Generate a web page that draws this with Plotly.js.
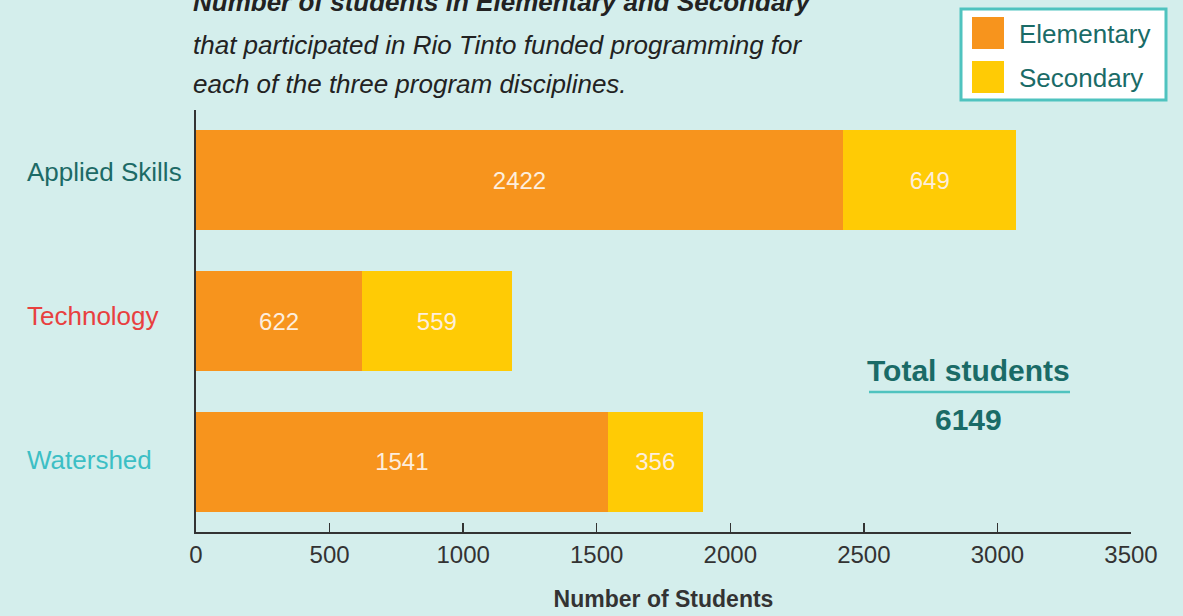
<!DOCTYPE html>
<html>
<head>
<meta charset="utf-8">
<script src="https://cdn.plot.ly/plotly-3.0.1.min.js"></script>
<style>html,body{margin:0;padding:0;background:#d4eeec;}</style>
</head>
<body>
<div id="chart" style="width:1183px;height:616px;"></div>
<script>
const categories = ["Watershed", "Technology", "Applied Skills"];
const categoryColors = ["#3cbfc5", "#e8403f", "#1c6a66"];
const elementary = [1541, 622, 2422];
const secondary = [356, 559, 649];
const seriesNames = ["Elementary", "Secondary"];
const xTicks = [0, 500, 1000, 1500, 2000, 2500, 3000, 3500];
const totalStudents = 6149;

const SANS = '"Liberation Sans", Arial, sans-serif';

const W = 1183, H = 616;
const margin = {l: 196, r: 52, t: 110, b: 84};
const pw = W - margin.l - margin.r, ph = H - margin.t - margin.b;
const px = x => (x - margin.l) / pw;          // pixel -> paper x
const py = y => 1 - (y - margin.t) / ph;      // pixel -> paper y

const barText = {family: SANS, size: 24, color: "#fdeedd"};

const traces = [
  {type: "bar", orientation: "h", name: seriesNames[0], y: categories, x: elementary,
   text: elementary.map(String), textposition: "inside", insidetextanchor: "middle",
   textfont: barText, insidetextfont: barText, marker: {color: "#f7941d"}, hoverinfo: "x+y+name"},
  {type: "bar", orientation: "h", name: seriesNames[1], y: categories, x: secondary,
   text: secondary.map(String), textposition: "inside", insidetextanchor: "middle",
   textfont: barText, insidetextfont: barText, marker: {color: "#ffcb05"}, hoverinfo: "x+y+name"}
];

const labelShift = [2, 5, 8];
const annotations = [];
// category labels, left aligned
categories.forEach((c, i) => {
  annotations.push({xref: "paper", yref: "y", x: px(25), y: i, yshift: labelShift[i], xanchor: "left", yanchor: "middle",
    text: c, showarrow: false, font: {family: SANS, size: 26, color: categoryColors[i]}});
});
// title lines
annotations.push({xref: "paper", yref: "paper", x: px(191), y: py(2), xanchor: "left", yanchor: "middle",
  text: "<b><i>Number of students in Elementary and Secondary</i></b>", showarrow: false,
  font: {family: SANS, size: 26, color: "#222222"}});
annotations.push({xref: "paper", yref: "paper", x: px(191), y: py(45), xanchor: "left", yanchor: "middle",
  text: "<i>that participated in Rio Tinto funded programming for</i>", showarrow: false,
  font: {family: SANS, size: 26, color: "#222222"}});
annotations.push({xref: "paper", yref: "paper", x: px(191), y: py(84), xanchor: "left", yanchor: "middle",
  text: "<i>each of the three program disciplines.</i>", showarrow: false,
  font: {family: SANS, size: 26, color: "#222222"}});
// total
annotations.push({xref: "paper", yref: "paper", x: px(968), y: py(370), xanchor: "center", yanchor: "middle",
  text: "<b>Total students</b>", showarrow: false, font: {family: SANS, size: 30, color: "#1a6b67"}});
annotations.push({xref: "paper", yref: "paper", x: px(968), y: py(419), xanchor: "center", yanchor: "middle",
  text: "<b>" + totalStudents + "</b>", showarrow: false, font: {family: SANS, size: 30, color: "#1a6b67"}});
// legend text
annotations.push({xref: "paper", yref: "paper", x: px(1017), y: py(34), xanchor: "left", yanchor: "middle",
  text: seriesNames[0], showarrow: false, font: {family: SANS, size: 26, color: "#1a6b67"}});
annotations.push({xref: "paper", yref: "paper", x: px(1017), y: py(78), xanchor: "left", yanchor: "middle",
  text: seriesNames[1], showarrow: false, font: {family: SANS, size: 26, color: "#1a6b67"}});

const shapes = [
  // legend box
  {type: "rect", xref: "paper", yref: "paper", x0: px(961), x1: px(1166), y0: py(9), y1: py(100),
   fillcolor: "#ffffff", line: {color: "#4fc3bf", width: 3}, layer: "above"},
  {type: "rect", xref: "paper", yref: "paper", x0: px(972), x1: px(1004), y0: py(17), y1: py(49),
   fillcolor: "#f7941d", line: {width: 0}, layer: "above"},
  {type: "rect", xref: "paper", yref: "paper", x0: px(972), x1: px(1004), y0: py(61), y1: py(93),
   fillcolor: "#ffcb05", line: {width: 0}, layer: "above"},
  // underline of total
  {type: "line", xref: "paper", yref: "paper", x0: px(869), x1: px(1070), y0: py(392), y1: py(392),
   line: {color: "#4fc3bf", width: 2.5}}
];

const layout = {
  width: W, height: H, margin: margin,
  paper_bgcolor: "#d4eeec", plot_bgcolor: "#d4eeec",
  barmode: "stack", bargap: 0.289, showlegend: false,
  xaxis: {range: [0, 3500], tickvals: xTicks, ticktext: xTicks.map(String),
    ticks: "inside", ticklen: 9, tickwidth: 1.5, tickcolor: "#333",
    showline: true, linecolor: "#333", linewidth: 2, showgrid: false, zeroline: false,
    tickfont: {family: SANS, size: 24, color: "#333"},
    title: {text: "<b>Number of Students</b>", font: {family: SANS, size: 23, color: "#333"}, standoff: 24}},
  yaxis: {range: [-0.5, 2.5], showticklabels: false, ticks: "", showline: true, linecolor: "#333", linewidth: 2,
    showgrid: false, zeroline: false},
  annotations: annotations, shapes: shapes
};

Plotly.newPlot("chart", traces, layout, {displayModeBar: false, staticPlot: true});
</script>
</body>
</html>
